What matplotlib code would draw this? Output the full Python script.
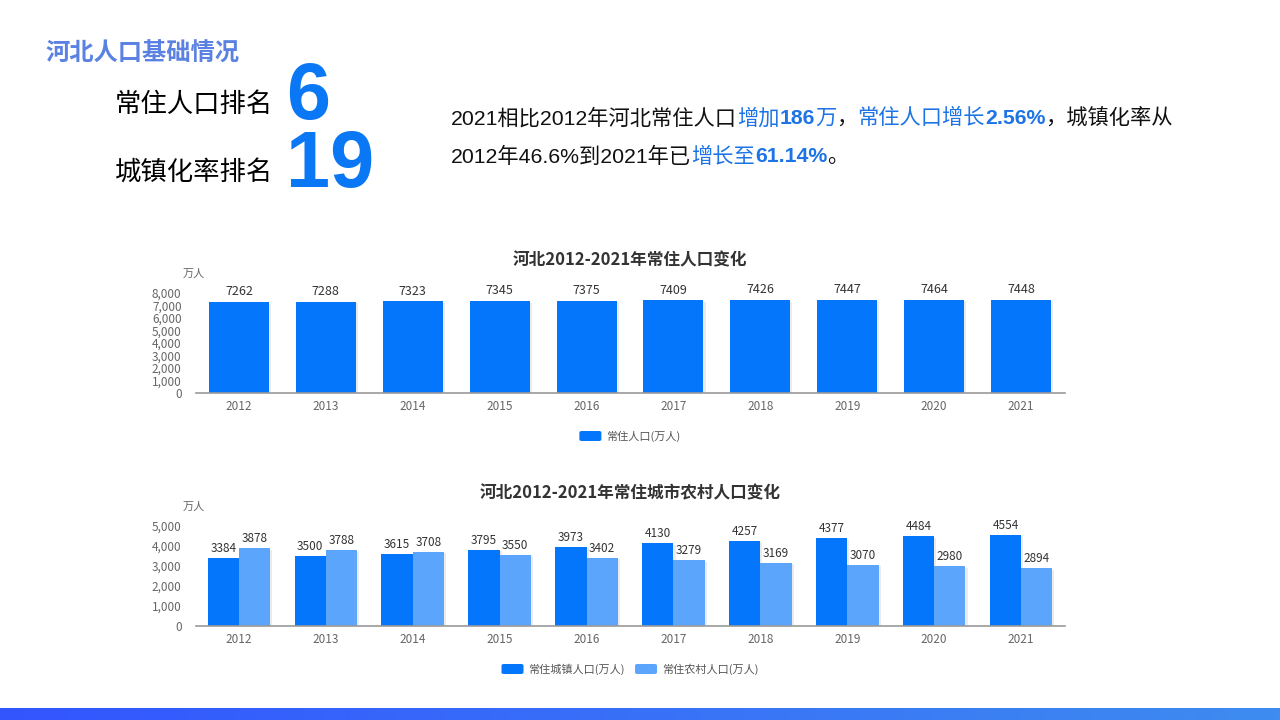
import numpy as np
import matplotlib
matplotlib.use("Agg")
import matplotlib.pyplot as plt
import matplotlib.patheffects as pe
from matplotlib.patches import FancyBboxPatch
from matplotlib.colors import LinearSegmentedColormap

plt.rcParams['font.family'] = ['Noto Sans CJK SC', 'DejaVu Sans']

years = ['2012', '2013', '2014', '2015', '2016', '2017', '2018', '2019', '2020', '2021']
total_pop = [7262, 7288, 7323, 7345, 7375, 7409, 7426, 7447, 7464, 7448]
urban_pop = [3384, 3500, 3615, 3795, 3973, 4130, 4257, 4377, 4484, 4554]
rural_pop = [3878, 3788, 3708, 3550, 3402, 3279, 3169, 3070, 2980, 2894]

title1 = '河北2012-2021年常住人口变化'
title2 = '河北2012-2021年常住城市农村人口变化'
legend1 = ['常住人口(万人)']
legend2 = ['常住城镇人口(万人)', '常住农村人口(万人)']

DARK = '#0376FB'
LIGHT = '#5CA5FD'
TXT_BLUE = '#1C74E6'
W, H = 1280, 720

fig = plt.figure(figsize=(12.8, 7.2), dpi=100)
fig.patch.set_facecolor('white')


def fx(x):
    return x / W


def fy(y):
    return 1 - y / H


# bottom gradient band
band = fig.add_axes([0, 0, 1, 12 / H])
grad = LinearSegmentedColormap.from_list('g', ['#3355FF', '#3E8CF0'])
band.imshow(np.linspace(0, 1, 256).reshape(1, -1), aspect='auto', cmap=grad)
band.axis('off')

# header texts
fig.text(fx(45), fy(54), '河北人口基础情况', fontsize=17.5, color='#5B82E2',
         fontweight='bold', va='center', ha='left')
fig.text(fx(115), fy(104), '常住人口排名', fontsize=19, color='black',
         va='center', ha='left', fontweight='medium')
fig.text(fx(115), fy(172), '城镇化率排名', fontsize=19, color='black',
         va='center', ha='left', fontweight='medium')
fig.text(fx(286), fy(98), '6', fontsize=57, color='#0A78F5', fontweight='bold',
         family=['Liberation Sans'], va='center', ha='left')
fig.text(fx(286), fy(166), '19', fontsize=57, color='#0A78F5', fontweight='bold',
         family=['Liberation Sans'], va='center', ha='left')

renderer = fig.canvas.get_renderer()


def draw_runs(x, y, runs, size=15.3):
    for s, color, weight in runs:
        t = fig.text(fx(x), fy(y), s, fontsize=size, color=color,
                     fontweight=weight, va='center', ha='left',
                     family=['Liberation Sans', 'Noto Sans CJK SC'])
        x += t.get_window_extent(renderer).width


line1 = [('2021相比2012年河北常住人口', '#111111', 'normal'),
         ('增加', TXT_BLUE, 'normal'), ('186', TXT_BLUE, 'bold'),
         ('万', TXT_BLUE, 'normal'), ('，', '#111111', 'normal'),
         ('常住人口增长', TXT_BLUE, 'normal'), ('2.56%', TXT_BLUE, 'bold'),
         ('，城镇化率从', '#111111', 'normal')]
line2 = [('2012年46.6%到2021年已', '#111111', 'normal'),
         ('增长至', TXT_BLUE, 'normal'), ('61.14%', TXT_BLUE, 'bold'),
         ('。', '#111111', 'normal')]
draw_runs(451, 118, line1)
draw_runs(451, 157, line2)

shadow = [pe.SimplePatchShadow(offset=(1.5, -1), shadow_rgbFace='#000000', alpha=0.08), pe.Normal()]


def setup_axes(ax, top_val, step):
    ax.set_xlim(-0.5, len(years) - 0.5)
    ax.set_ylim(0, top_val)
    ax.set_yticks(np.arange(0, top_val + 1, step))
    ax.set_yticklabels([f'{v:,}' for v in np.arange(0, top_val + 1, step)])
    ax.set_xticks(np.arange(len(years)))
    ax.set_xticklabels(years)
    for s in ['top', 'right', 'left']:
        ax.spines[s].set_visible(False)
    ax.spines['bottom'].set_color('#9A9A9A')
    ax.spines['bottom'].set_linewidth(1.2)
    ax.tick_params(axis='both', length=0, labelsize=8.5, colors='#666666')
    ax.tick_params(axis='x', pad=5)
    ax.tick_params(axis='y', pad=10)
    ax.patch.set_alpha(0)


def legend_box(cx, y, labels, colors):
    # measure total width first
    items = []
    total = 0
    for lab in labels:
        t = fig.text(0, 0, lab, fontsize=8, color='#555555')
        w = t.get_window_extent(renderer).width
        t.remove()
        items.append(w)
        total += 22 + 5 + w
    total += 10 * (len(labels) - 1)
    x = cx - total / 2
    for lab, col, w in zip(labels, colors, items):
        p = FancyBboxPatch((fx(x), fy(y + 5)), fx(22), 10 / H,
                           boxstyle='round,pad=0,rounding_size=0.002',
                           transform=fig.transFigure, facecolor=col,
                           edgecolor='none')
        fig.patches.append(p)
        fig.text(fx(x + 27), fy(y), lab, fontsize=8, color='#555555',
                 va='center', ha='left')
        x += 27 + w + 10


# chart 1
ax1 = fig.add_axes([fx(195.5), fy(393), fx(869), 100 / H])
x = np.arange(len(years))
bars = ax1.bar(x, total_pop, width=0.69, color=DARK, zorder=2)
for b in bars:
    b.set_path_effects(shadow)
for xi, v in zip(x, total_pop):
    ax1.text(xi, v + 300, str(v), ha='center', va='bottom', fontsize=9,
             color='#333333')
setup_axes(ax1, 8000, 1000)
fig.text(fx(630), fy(260), title1, fontsize=12, fontweight='bold',
         color='#333333', ha='center', va='center')
fig.text(fx(194), fy(274), '万人', fontsize=8, color='#666666',
         ha='center', va='center')
legend_box(630, 436, legend1, [DARK])

# chart 2
ax2 = fig.add_axes([fx(195.5), fy(626), fx(869), 100 / H])
bw = 0.36
b1 = ax2.bar(x - bw / 2, urban_pop, width=bw, color=DARK, zorder=2)
b2 = ax2.bar(x + bw / 2, rural_pop, width=bw, color=LIGHT, zorder=2)
for b in list(b1) + list(b2):
    b.set_path_effects(shadow)
for xi, v in zip(x, urban_pop):
    ax2.text(xi - bw / 2, v + 150, str(v), ha='center', va='bottom',
             fontsize=8.5, color='#333333')
for xi, v in zip(x, rural_pop):
    ax2.text(xi + bw / 2, v + 150, str(v), ha='center', va='bottom',
             fontsize=8.5, color='#333333')
setup_axes(ax2, 5000, 1000)
fig.text(fx(630), fy(493), title2, fontsize=12, fontweight='bold',
         color='#333333', ha='center', va='center')
fig.text(fx(194), fy(507), '万人', fontsize=8, color='#666666',
         ha='center', va='center')
legend_box(630, 669, legend2, [DARK, LIGHT])

fig.savefig('out.png', dpi=100, facecolor='white')
